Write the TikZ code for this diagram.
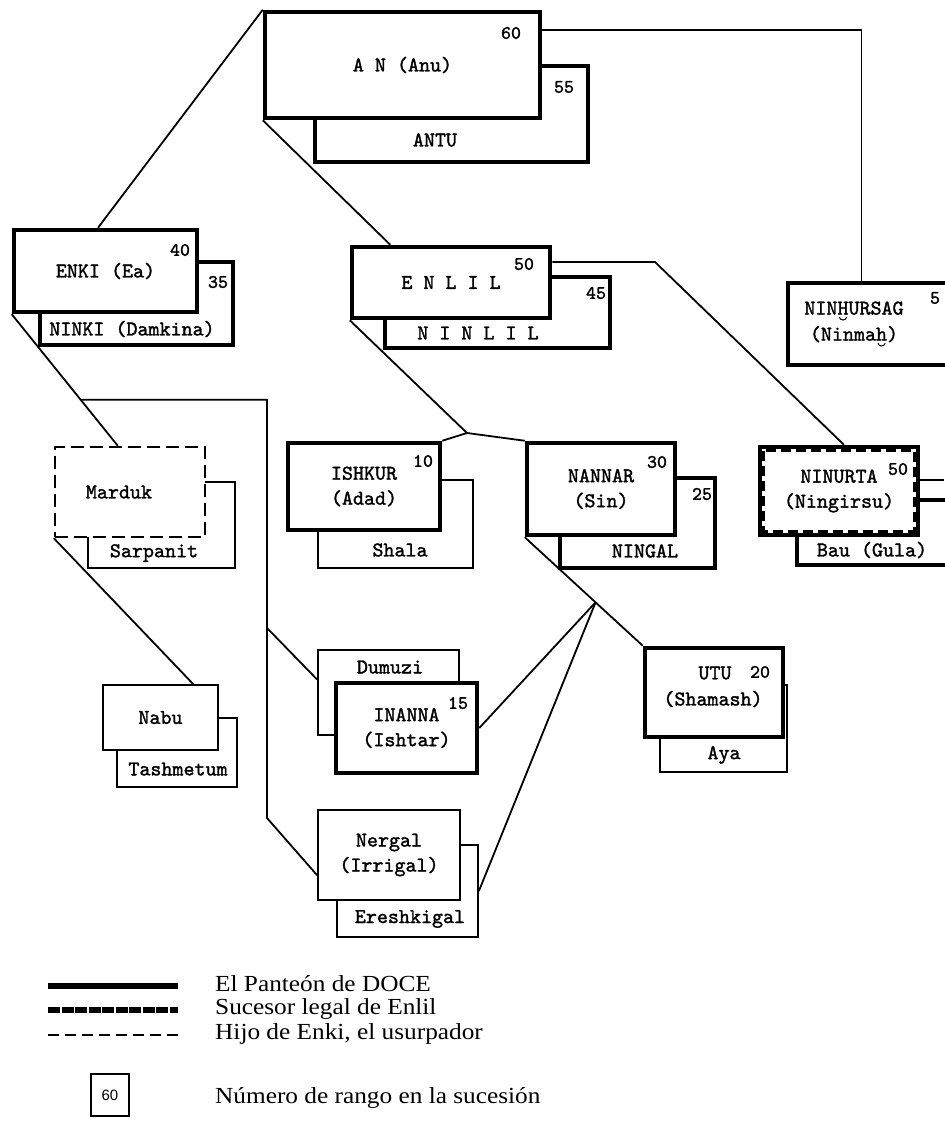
\documentclass[tikz,border=0pt]{standalone}
\usepackage{fontspec}
\setmainfont{Liberation Serif}
\newfontfamily\typew[FakeBold=1.5]{lmmono10-regular.otf}
\newfontfamily\legfont[FakeStretch=1.1]{Liberation Serif}
\newfontfamily\boxfont{Liberation Sans}
\usetikzlibrary{calc,backgrounds}
\newcommand\brv[1]{\ooalign{#1\cr\hidewidth\tikz[baseline=0.12em]\draw[line width=1pt] (0,0) arc (180:360:0.17em and 0.14em);\hidewidth\cr}}
\tikzset{
  god/.style={draw, line width=4.5pt, fill=white, inner sep=0pt, align=center,
    font=\typew\fontsize{21}{25}\selectfont},
  minor/.style={god, line width=1.8pt},
  usurper/.style={minor, dash pattern=on 13pt off 6pt, line width=2.4pt},
  rank/.style={font=\typew\fontsize{19}{19}\selectfont, inner sep=0pt},
  spouse/.style={font=\typew\fontsize{21}{21}\selectfont, inner sep=0pt, align=center},
  link/.style={line width=1.8pt},
  legend/.style={font=\legfont\fontsize{23}{23}\selectfont, anchor=west, inner sep=0pt}
}
\begin{document}
\begin{tikzpicture}[x=1pt, y=-1pt]
		\useasboundingbox (0,0) rectangle (944,1123);
		
		%%%%% top: An and Antu %%%%%
		\node[god, minimum width=273pt, minimum height=96pt] (antu) at (451.5,114) {};
		\node[god, minimum width=275pt, minimum height=106pt] (an) at (402.5,65) {A N (Anu)};
		\node[spouse] (antu-l) at (435,140) {ANTU};
		\node[rank] (r60) at (511,33) {60};
		\node[rank] (r55) at (564,87) {55};
		
		%%%%% Enki and Enlil %%%%%
		\node[god, minimum width=193pt, minimum height=83pt] (ninki) at (136.5,303.5) {};
		\node[god, minimum width=183pt, minimum height=82pt] (enki) at (105.5,271) {ENKI (Ea)};
		\node[spouse] (ninki-l) at (132,329) {NINKI (Damkina)};
		\node[rank] (r40) at (180,250) {40};
		\node[rank] (r35) at (218,282) {35};
		
		\node[god, minimum width=225pt, minimum height=71pt] (ninlil) at (497.5,312.5) {};
		\node[god, minimum width=198pt, minimum height=71pt] (enlil) at (451,282.5) {E N L I L};
		\node[spouse] (ninlil-l) at (478,333) {N I N L I L};
		\node[rank] (r50) at (524,264) {50};
		\node[rank] (r45) at (596,293) {45};
		
		\node[god, minimum width=164pt, minimum height=82pt] (ninhursag) at (870,324) {};
		\node[spouse] (ninhursag-l) at (854,324) {NIN\brv{H}URSAG\\[5pt](Ninma\brv{h})};
		\node[rank] (r5) at (935,298) {5};
		
		%%%%% children of Enlil %%%%%
		\node[minor, minimum width=155pt, minimum height=88pt] (shala) at (395.5,524) {};
		\node[god, minimum width=152pt, minimum height=87pt] (ishkur) at (364,486.5) {ISHKUR\\(Adad)};
		\node[spouse] (shala-l) at (400,550) {Shala};
		\node[rank] (r10) at (423,461) {10};
		
		\node[god, minimum width=155pt, minimum height=90pt] (ningal) at (637.5,523) {};
		\node[god, minimum width=148pt, minimum height=92pt] (nannar) at (601,489) {NANNAR\\(Sin)};
		\node[spouse] (ningal-l) at (645,551) {NINGAL};
		\node[rank] (r30) at (657,462) {30};
		\node[rank] (r25) at (702,494) {25};
		
		\node[god, minimum width=155pt, minimum height=65pt] (bau) at (874.5,532.5) {};
		\node[god, minimum width=158pt, minimum height=88pt] (ninurta) at (839,491) {NINURTA\\(Ningirsu)};
		\draw[line width=2.6pt, dash pattern=on 10pt off 5pt] ([shift={(6,6)}]ninurta.north west) rectangle ([shift={(-6,-6)}]ninurta.south east);
		\node[spouse] (bau-l) at (872,550) {Bau (Gula)};
		\node[rank] (r50b) at (898,469) {50};
		
		\node[minor, minimum width=127pt, minimum height=87pt] (aya) at (723.5,728.5) {};
		\node[god, minimum width=138pt, minimum height=89pt] (utu) at (714,692.5) {};
		\node[spouse] (utu-l) at (715,673) {UTU};
		\node[spouse] (utu-l2) at (713,699) {(Shamash)};
		\node[rank] (r20) at (760,672) {20};
		\node[spouse] (aya-l) at (724,755) {Aya};
		
		%%%%% Marduk and Nabu %%%%%
		\node[minor, minimum width=147pt, minimum height=86pt] (sarpanit) at (161.5,525) {};
		\node[usurper, fill=white, minimum width=150pt, minimum height=90pt] (marduk) at (130,492) {Marduk\phantom{00}};
		\node[spouse] (sarpanit-l) at (154,553) {Sarpanit};
		
		\node[minor, minimum width=120pt, minimum height=69pt] (tashmetum) at (177,752.5) {};
		\node[minor, minimum width=115pt, minimum height=65pt] (nabu) at (160.5,717.5) {Nabu};
		\node[spouse] (tashmetum-l) at (178,769) {Tashmetum};
		
		%%%%% Inanna and Nergal %%%%%
		\node[minor, minimum width=141pt, minimum height=85pt] (dumuzi) at (388.5,692.5) {};
		\node[spouse] (dumuzi-l) at (390,667) {Dumuzi};
		\node[god, minimum width=141pt, minimum height=90pt] (inanna) at (406.5,728) {INANNA\\(Ishtar)};
		\node[rank] (r15) at (458,703) {15};
		
		\node[minor, minimum width=141pt, minimum height=92pt] (ereshkigal) at (407.5,891) {};
		\node[minor, minimum width=142pt, minimum height=90pt] (nergal) at (389,855) {Nergal\\(Irrigal)};
		\node[spouse] (ereshkigal-l) at (410,919) {Ereshkigal};
		
		%%%%% connectors %%%%%
		\begin{pgfonlayer}{background}
		\coordinate (anr) at (540,30);
		\coordinate (bend) at (655,262);
		\coordinate (junc) at (467,433);
		\coordinate (trbot) at (267,818);
		\coordinate (trmid) at (267,628);
		\coordinate (rim) at (944,480);
		\coordinate (mardtop) at ($(marduk.north west)!0.42!(marduk.north east)$);
		\coordinate (hbr) at ($(enki.south west)!0.65!(mardtop)$);
		\coordinate (apex) at ($(nannar.south west)!0.6!(utu.north west)$);
		
		\draw[link] (an.north west) -- ($(enki.north west)!0.46!(enki.north east)$);
		\draw[link] (an.south west) -- ($(enlil.north west)!0.2!(enlil.north east)$);
		\draw[link] (anr) -| ($(ninhursag.north west)!0.45!(ninhursag.north east)$);
		\draw[link] (enlil.east |- bend) -- (bend) -- ($(ninurta.north west)!0.53!(ninurta.north east)$);
		\draw[link] (ninurta.east |- rim) -- (rim);
		
		\draw[link] (enki.south west) -- (mardtop);
		\draw[link] (hbr) -- (hbr -| trbot) -- (trbot) -- ($(nergal.north west)!0.72!(nergal.south west)$);
		\draw[link] (trmid) -- ($(dumuzi.north west)!0.35!(dumuzi.south west)$);
		\draw[link] (marduk.south west) -- ($(nabu.north west)!0.78!(nabu.north east)$);
		
		\draw[link] (enlil.south west) -- (junc) -- (ishkur.north east);
		\draw[link] (junc) -- (nannar.north west);
		\draw[link] (nannar.south west) -- (utu.north west);
		\draw[link] (apex) -- (inanna.east);
		\draw[link] (apex) -- (ereshkigal.east);
		\end{pgfonlayer}
		
		%%%%% legend %%%%%
		\draw[line width=5.5pt] (48,986) -- (178,986);
		\node[legend] (leg1) at (215,984) {El Panteón de DOCE};
		\draw[line width=5.5pt, dash pattern=on 12pt off 1.5pt] (48,1010) -- (178,1010);
		\node[legend] (leg2) at (215,1009) {Sucesor legal de Enlil};
		\draw[line width=2.4pt, dash pattern=on 11pt off 6pt] (48,1035) -- (178,1035);
		\node[legend] (leg3) at (215,1034) {Hijo de Enki, el usurpador};
		\node[draw, line width=1.6pt, minimum width=38pt, minimum height=42pt, font=\boxfont\fontsize{15}{15}\selectfont] (legbox) at (110,1095) {60};
		\node[legend] (leg4) at (215,1098) {Número de rango en la sucesión};
		
	\end{tikzpicture}
\end{document}
